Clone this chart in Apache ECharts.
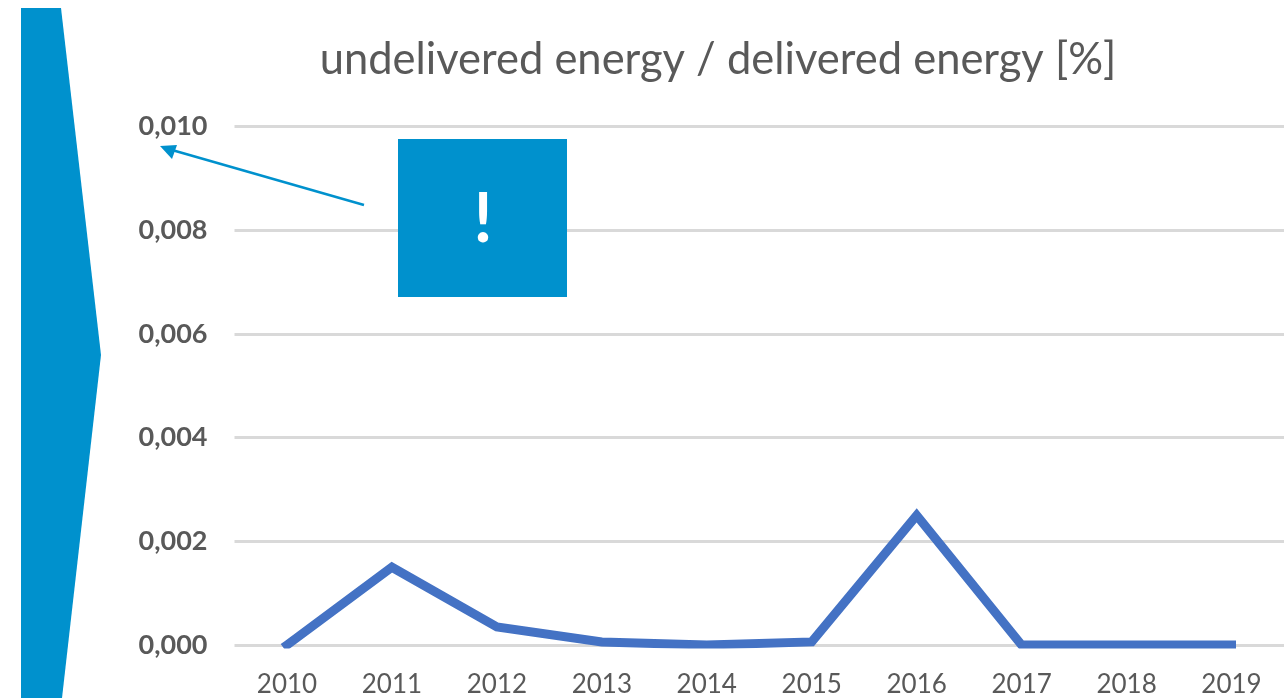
<!DOCTYPE html>
<html>
<head>
<meta charset="utf-8">
<style>
	html, body { margin: 0; padding: 0; background: #fff; }
	#chart { width: 1284px; height: 698px; }
</style>
<script src="https://cdn.jsdelivr.net/npm/echarts@6/dist/echarts.min.js"></script>
</head>
<body>
<div id="chart"></div>
<script>
var years = ['2010', '2011', '2012', '2013', '2014', '2015', '2016', '2017', '2018', '2019'];
var ratioValues = [0, 0.0015, 0.00035, 0.00006, 0, 0.00006, 0.0025, 0, 0, 0];
var chartTitle = 'undelivered energy / delivered energy [%]';

var blue = '#0091cd';
var chart = echarts.init(document.getElementById('chart'));

chart.setOption({
	animation: false,
	backgroundColor: '#fff',
	title: {
		text: chartTitle,
		left: 713,
		top: 33,
		textAlign: 'center',
		textStyle: { fontFamily: 'Lato', fontSize: 43.5, fontWeight: 'normal', color: '#595959' }
	},
	grid: { left: 234.5, right: 0, top: 126.5, bottom: 51.5 },
	xAxis: {
		type: 'category',
		data: years,
		axisLine: { show: false },
		axisTick: { show: false },
		axisLabel: { fontFamily: 'Lato', fontSize: 26, color: '#595959', margin: 27 }
	},
	yAxis: {
		type: 'value',
		min: 0,
		max: 0.01,
		interval: 0.002,
		axisLine: { show: false },
		axisTick: { show: false },
		splitLine: { lineStyle: { color: '#d9d9d9', width: 3 } },
		axisLabel: {
			fontFamily: 'Lato',
			fontSize: 27,
			fontWeight: 'bold',
			color: '#595959',
			margin: 27,
			formatter: function(v) { return v.toFixed(3).replace('.', ','); }
		}
	},
	series: [{
		type: 'line',
		data: ratioValues,
		symbol: 'none',
		lineStyle: { color: '#4472c4', width: 9, join: 'miter', cap: 'square' }
	}],
	graphic: [
		// left chevron
		{ type: 'polygon', z: 100, shape: { points: [[21, 8], [61, 8], [101, 355], [62, 698], [21, 698]] }, style: { fill: blue } },
		// callout box
		{ type: 'rect', z: 100, shape: { x: 398, y: 139, width: 169, height: 158 }, style: { fill: blue } },
		{ type: 'text', z: 101, x: 483, y: 220, style: { text: '!', fill: '#fff', fontFamily: 'Lato', fontSize: 68, fontWeight: 'bold', align: 'center', verticalAlign: 'middle' } },
		// arrow
		{ type: 'line', z: 100, shape: { x1: 364, y1: 205, x2: 172, y2: 150 }, style: { stroke: blue, lineWidth: 2.5 } },
		{ type: 'polygon', z: 100, shape: { points: [[160, 146], [177, 145], [172, 159]] }, style: { fill: blue } },
		// line is cut flat at the base of the plot
		{ type: 'rect', z: 100, shape: { x: 234, y: 648.5, width: 1050, height: 14 }, style: { fill: '#fff' } }
	]
});
</script>
</body>
</html>
